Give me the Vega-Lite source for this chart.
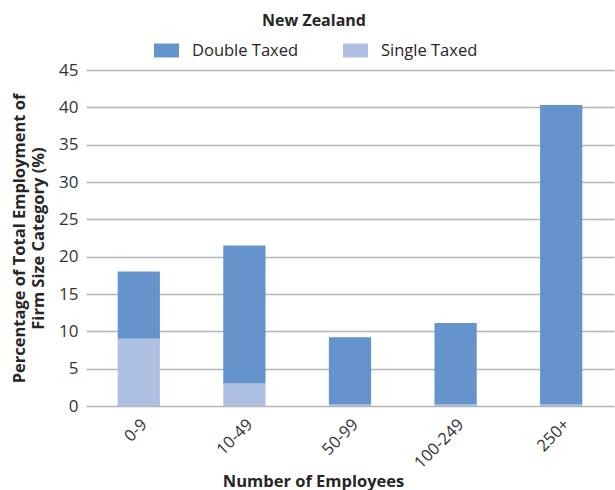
{
  "$schema": "https://vega.github.io/schema/vega-lite/v6.json",
  "autosize": "none",
  "padding": {"left": 86, "top": 70, "right": 1, "bottom": 84},
  "width": 528,
  "height": 336,
  "background": "white",
  "title": {
    "text": "New Zealand",
    "anchor": "middle",
    "dx": -36,
    "offset": 9,
    "fontSize": 16,
    "fontWeight": "bold",
    "font": "Open Sans",
    "color": "#262626"
  },
  "data": {
    "values": [
      {"size": "0-9", "type": "Single Taxed", "pct": 9.0},
      {"size": "0-9", "type": "Double Taxed", "pct": 9.0},
      {"size": "10-49", "type": "Single Taxed", "pct": 3.0},
      {"size": "10-49", "type": "Double Taxed", "pct": 18.5},
      {"size": "50-99", "type": "Single Taxed", "pct": 0.2},
      {"size": "50-99", "type": "Double Taxed", "pct": 9.0},
      {"size": "100-249", "type": "Single Taxed", "pct": 0.2},
      {"size": "100-249", "type": "Double Taxed", "pct": 10.9},
      {"size": "250+", "type": "Single Taxed", "pct": 0.2},
      {"size": "250+", "type": "Double Taxed", "pct": 40.1}
    ]
  },
  "mark": {"type": "bar"},
  "encoding": {
    "x": {
      "field": "size",
      "type": "nominal",
      "sort": ["0-9", "10-49", "50-99", "100-249", "250+"],
      "scale": {"paddingInner": 0.6, "paddingOuter": 0.3},
      "axis": {
        "title": "Number of Employees",
        "titleX": 227,
        "titleY": 67,
        "titleFont": "Open Sans",
        "titleFontSize": 16.5,
        "titleFontWeight": "bold",
        "titleColor": "#262626",
        "labelAngle": -45,
        "labelFont": "Open Sans",
        "labelFontSize": 16.5,
        "labelColor": "#333333",
        "labelPadding": 10,
        "ticks": false,
        "domain": false,
        "grid": false
      }
    },
    "y": {
      "field": "pct",
      "type": "quantitative",
      "stack": "zero",
      "scale": {"domain": [0, 45]},
      "axis": {
        "title": ["Percentage of Total Employment of", "Firm Size Category (%)"],
        "titleFont": "Open Sans",
        "titleFontSize": 16.5,
        "titleFontWeight": "bold",
        "titleColor": "#262626",
        "titlePadding": 12,
        "titleLineHeight": 19,
        "values": [0, 5, 10, 15, 20, 25, 30, 35, 40, 45],
        "labelFont": "Open Sans",
        "labelFontSize": 17,
        "labelColor": "#333333",
        "labelPadding": 8,
        "ticks": false,
        "domain": false,
        "grid": true,
        "gridColor": "#b5b5b5",
        "gridWidth": 1.5
      }
    },
    "color": {
      "field": "type",
      "type": "nominal",
      "scale": {
        "domain": ["Double Taxed", "Single Taxed"],
        "range": ["#6593cb", "#adc0e2"]
      },
      "legend": {
        "title": null,
        "orient": "none",
        "direction": "horizontal",
        "legendX": 68,
        "legendY": -32,
        "padding": 0,
        "symbolType": "M-1,-0.56H1V0.56H-1Z",
        "symbolSize": 625,
        "symbolStrokeWidth": 0,
        "symbolOpacity": 1,
        "labelFont": "Open Sans",
        "labelFontSize": 16.5,
        "labelColor": "#262626",
        "labelOffset": 13,
        "columnPadding": 44
      }
    },
    "order": {"field": "type", "sort": "descending"}
  },
  "config": {"view": {"stroke": null}}
}
